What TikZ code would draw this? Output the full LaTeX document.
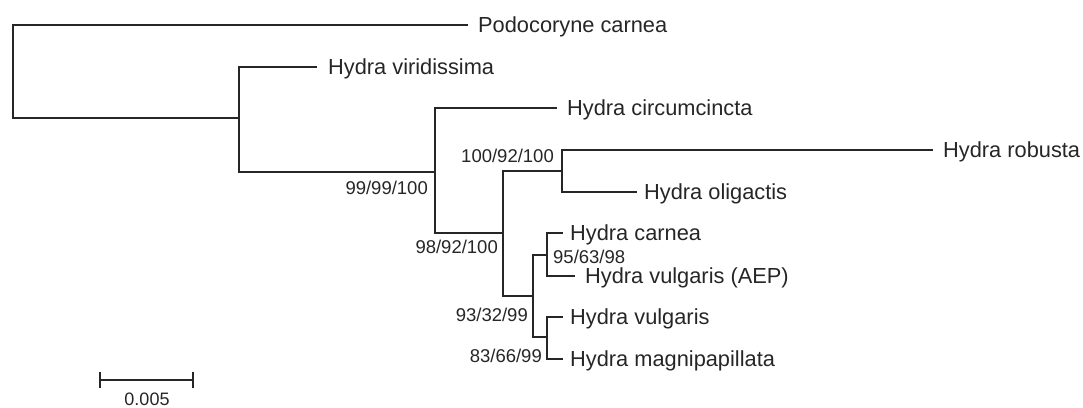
\documentclass[tikz,border=0pt]{standalone}
\usepackage{fontspec}
\setmainfont{Liberation Sans}
\begin{document}
\begin{tikzpicture}[x=1pt,y=-1pt,
  branch/.style={draw=black!85, line width=1.4pt},
  rootbranch/.style={draw=black!85, line width=2pt},
  taxon/.style={anchor=base west, inner sep=0pt, text=black!85, font=\fontsize{21.8}{24}\selectfont},
  support/.style={anchor=base east, inner sep=0pt, text=black!85, font=\fontsize{18.5}{21}\selectfont},
  supportL/.style={anchor=base west, inner sep=0pt, text=black!85, font=\fontsize{18.5}{21}\selectfont}]
\useasboundingbox (0,0) rectangle (1083,407);
% internal nodes
\coordinate (root) at (13,71.5);
\coordinate (A) at (239,118);
\coordinate (B) at (435,172);
\coordinate (C) at (503,233);
\coordinate (D) at (562,171);
\coordinate (E) at (533,296);
\coordinate (F) at (547,255);
\coordinate (G) at (547,337);
% tips
\coordinate (podo) at (468,25);
\coordinate (viri) at (317,67);
\coordinate (circ) at (557,108);
\coordinate (robu) at (933,150);
\coordinate (olig) at (637,192);
\coordinate (carn) at (563,233);
\coordinate (aep)  at (575,276);
\coordinate (vulg) at (563,317);
\coordinate (magn) at (563,359);
% branches
\draw[rootbranch] (root) |- (podo);
\draw[rootbranch] (root) |- (A);
\draw[branch] (A) |- (viri);
\draw[rootbranch] (A) |- (B);
\draw[branch] (B) |- (circ);
\draw[branch] (B) |- (C);
\draw[branch] (C) |- (D);
\draw[branch] (C) |- (E);
\draw[branch] (D) |- (robu);
\draw[branch] (D) |- (olig);
\draw[branch] (E) |- (F);
\draw[branch] (E) |- (G);
\draw[branch] (F) |- (carn);
\draw[branch] (F) |- (aep);
\draw[branch] (G) |- (vulg);
\draw[branch] (G) |- (magn);
% taxon labels
\node[taxon] (lpodo) at (478,32) {Podocoryne carnea};
\node[taxon] (lviri) at (328,74) {Hydra viridissima};
\node[taxon] (lcirc) at (567,115) {Hydra circumcincta};
\node[taxon] (lrobu) at (943,157) {Hydra robusta};
\node[taxon] (lolig) at (644,199) {Hydra oligactis};
\node[taxon] (lcarn) at (570,240) {Hydra carnea};
\node[taxon] (laep)  at (585,283) {Hydra vulgaris (AEP)};
\node[taxon] (lvulg) at (570,324) {Hydra vulgaris};
\node[taxon] (lmagn) at (570,366) {Hydra magnipapillata};
% support values
\node[support] (sB) at (428,194) {99/99/100};
\node[support] (sD) at (554,162) {100/92/100};
\node[support] (sC) at (498,253) {98/92/100};
\node[supportL] (sF) at (553,263) {95/63/98};
\node[support] (sE) at (528,321) {93/32/99};
\node[support] (sG) at (542,362) {83/66/99};
% scale bar
\coordinate (sb1) at (100,380);
\coordinate (sb2) at (193,380);
\draw[branch] (sb1) -- (sb2);
\draw[branch, line width=1.1pt] ([yshift=8pt]sb1) -- ([yshift=-8pt]sb1);
\draw[branch, line width=1.1pt] ([yshift=8pt]sb2) -- ([yshift=-8pt]sb2);
\node[anchor=base, inner sep=0pt, text=black!85, font=\fontsize{18}{20}\selectfont] (sblabel) at (147,405) {0.005};
\end{tikzpicture}
\end{document}
